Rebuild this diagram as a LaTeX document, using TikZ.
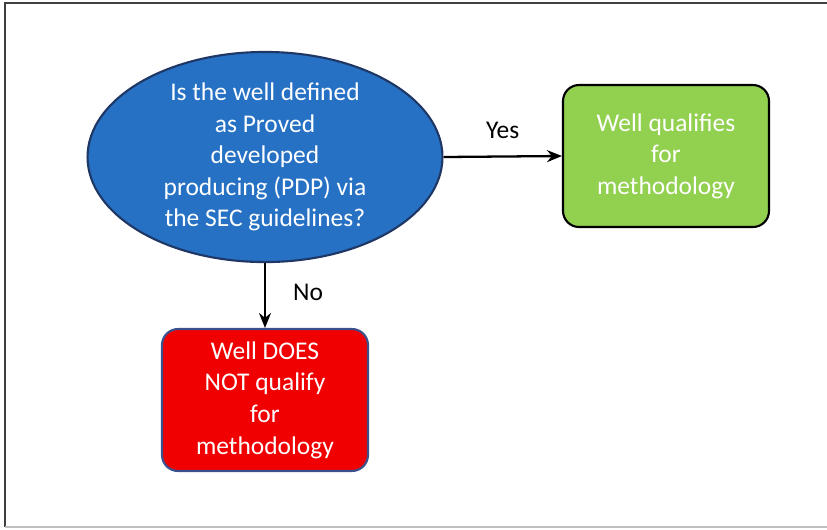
\documentclass[tikz,border=0pt]{standalone}
\usepackage{fontspec}
\setmainfont{Carlito}
\usepackage{xcolor}
\usepackage{tikz}
\usetikzlibrary{arrows.meta,positioning,shapes.geometric}
\definecolor{pdpblue}{RGB}{38,113,196}
\definecolor{pdpedge}{RGB}{30,55,100}
\definecolor{okgreen}{RGB}{146,208,80}
\definecolor{nored}{RGB}{240,0,0}
\definecolor{redge}{RGB}{60,80,140}

\begin{document}
\begin{tikzpicture}[
  x=0.02cm, y=-0.02cm,
  font=\fontsize{14.5}{18}\selectfont,
  ell/.style={draw=pdpedge, fill=pdpblue, ellipse, minimum width=7.1cm, minimum height=3.8cm, inner sep=0pt, align=center, text=white, line width=1.2pt},
  box/.style={draw, rectangle, rounded corners=0.32cm, minimum width=4.12cm, minimum height=2.84cm, align=center, text=white, line width=1.2pt},
  >={Stealth[length=3mm, width=2.4mm]},
  arrline/.style={->, line width=1.3pt},
]
\useasboundingbox (0,0) rectangle (827,529);
\draw[line width=1.2pt, color=black!75] (5,527) -- (5,3) -- (827,3);
\draw[line width=1pt, color=black!25] (5,527) -- (827,527);
\node[ell] (pdp) at (265,157) {Is the well defined\\as Proved\\developed\\producing (PDP) via\\the SEC guidelines?};
\node[box, fill=okgreen] (qual) at (666,156) {Well qualifies\\for\\methodology};
\node[box, fill=nored, draw=redge] (notqual) at (265,400) {Well DOES\\NOT qualify\\for\\methodology};
\draw[arrline] (pdp.east) -- node[pos=0.5,above=6pt] {Yes} (qual.west);
\draw[arrline] (pdp.south) -- node[pos=0.45,right=12pt] {No} (notqual.north);
\end{tikzpicture}
\end{document}
